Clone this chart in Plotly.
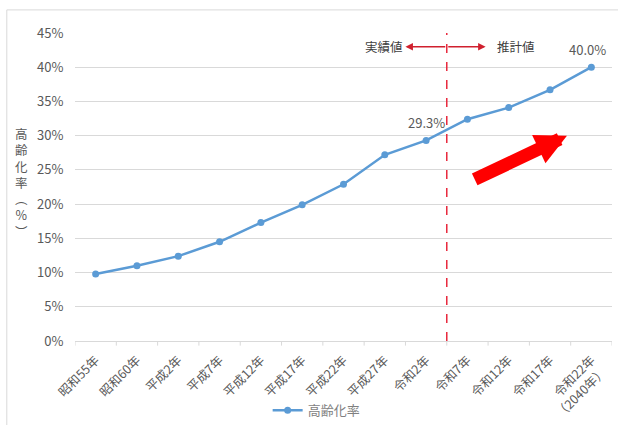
import plotly.graph_objects as go

# Data
years = ["昭和55年", "昭和60年", "平成2年", "平成7年", "平成12年", "平成17年",
         "平成22年", "平成27年", "令和2年", "令和7年", "令和12年", "令和17年",
         "令和22年<br>（2040年）"]
aging_rate = [0.098, 0.110, 0.124, 0.145, 0.173, 0.199, 0.229, 0.272, 0.293,
              0.324, 0.341, 0.367, 0.400]
y_ticks = [0, 0.05, 0.10, 0.15, 0.20, 0.25, 0.30, 0.35, 0.40, 0.45]
y_ticklabels = ["0%", "5%", "10%", "15%", "20%", "25%", "30%", "35%", "40%", "45%"]

FONT = "Noto Sans CJK JP, sans-serif"
LINE_BLUE = "#5B9BD5"
TEXT = "#595959"

fig = go.Figure()
fig.add_trace(go.Scatter(
    x=list(range(len(years))), y=aging_rate,
    mode="lines+markers", name="高齢化率",
    line=dict(color=LINE_BLUE, width=2.5),
    marker=dict(size=7, color=LINE_BLUE),
))

fig.update_layout(
    width=618, height=425,
    margin=dict(l=75, r=6, t=33, b=84, autoexpand=False),
    plot_bgcolor="white", paper_bgcolor="white",
    font=dict(family=FONT, size=12, color=TEXT),
    showlegend=True,
    legend=dict(orientation="h", x=0.45, xanchor="center", y=-0.225, yanchor="middle",
                font=dict(size=13, color="#7F7F7F"), itemwidth=30,
                bgcolor="rgba(0,0,0,0)"),
)
fig.update_xaxes(
    range=[-0.5, len(years) - 0.5], automargin=False,
    tickvals=list(range(len(years))), ticktext=years,
    tickangle=-45, tickfont=dict(size=12.5, color=TEXT),
    showgrid=False, showline=True, linecolor="#D9D9D9", linewidth=1,
    ticks="outside", ticklen=6, tickcolor="white", zeroline=False,
)
# tick marks between categories
for i in range(len(years) + 1):
    fig.add_shape(type="line", xref="x", yref="paper",
                  x0=i - 0.5, x1=i - 0.5, y0=0, y1=-0.015,
                  line=dict(color="#D9D9D9", width=1))
fig.update_yaxes(
    range=[0, 0.45], tickvals=y_ticks, ticktext=y_ticklabels, automargin=False,
    tickfont=dict(size=13, color=TEXT),
    showgrid=True, gridcolor="#D9D9D9", gridwidth=1,
    zeroline=False, showline=False, ticklen=8, ticks="outside", tickcolor="white",
)

# axis title (vertical)
fig.add_annotation(xref="paper", yref="paper", x=-0.099, y=0.513,
                   xanchor="center", yanchor="middle",
                   text="高<br>齢<br>化<br>率<br>︵<br>%<br>︶", showarrow=False,
                   font=dict(size=12.5, color=TEXT), align="center")

# split line between actual and estimated values
fig.add_shape(type="line", xref="x", yref="paper", x0=8.5, x1=8.5, y0=0, y1=1,
              line=dict(color="#E8283C", width=1.5, dash="dash"))
fig.add_annotation(xref="x", yref="y domain", x=6.97, y=0.955, text="実績値",
                   xanchor="center", yanchor="middle",
                   showarrow=False, font=dict(size=12.5, color="#404040"))
fig.add_annotation(xref="x", yref="y domain", x=10.17, y=0.955, text="推計値",
                   xanchor="center", yanchor="middle",
                   showarrow=False, font=dict(size=12.5, color="#404040"))
fig.add_annotation(xref="x", yref="y domain", x=7.5, y=0.955, ax=8.5, ay=0.955,
                   axref="x", ayref="y domain", text="", showarrow=True,
                   arrowhead=2, arrowsize=1, arrowwidth=1.5, arrowcolor="#D0202E",
                   standoff=0)
fig.add_annotation(xref="x", yref="y domain", x=9.44, y=0.955, ax=8.5, ay=0.955,
                   axref="x", ayref="y domain", text="", showarrow=True,
                   arrowhead=2, arrowsize=1, arrowwidth=1.5, arrowcolor="#D0202E",
                   standoff=0)

# data labels
fig.add_annotation(x=8, y=aging_rate[8], text="29.3%", showarrow=False,
                   yshift=18, font=dict(size=13, color=TEXT))
fig.add_annotation(x=12, y=aging_rate[12], text="40.0%", showarrow=False,
                   xshift=-4, yshift=18, font=dict(size=13, color=TEXT))

# big red trend arrow
fig.add_annotation(xref="x", yref="y", x=11.41, y=0.300, ax=9.14, ay=0.235,
                   axref="x", ayref="y", text="", showarrow=True,
                   arrowhead=2, arrowsize=0.48, arrowwidth=13, arrowcolor="#FF0000",
                   standoff=0)

# outer frame
fig.add_shape(type="rect", xref="paper", yref="paper",
              x0=-0.127, x1=1.02, y0=-0.30, y1=1.075,
              line=dict(color="#D9D9D9", width=1))

fig.write_html(
    "out.html",
    config={"displayModeBar": False},
    post_script=(
        "document.body.style.margin='0';"
        "document.body.style.overflow='hidden';"
        "document.documentElement.style.overflow='hidden';"
    ),
)
